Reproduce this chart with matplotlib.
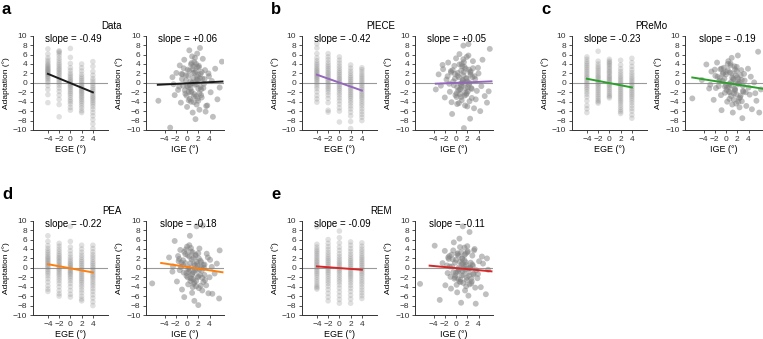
import matplotlib
matplotlib.use("Agg")
import matplotlib.pyplot as plt

plt.rcParams['font.family'] = ['Liberation Sans', 'DejaVu Sans']

# panel names, fit colours and fitted slopes/intercepts
models = ['Data', 'PIECE', 'PReMo', 'PEA', 'REM']
letters = ['a', 'b', 'c', 'd', 'e']
colors = ['#1a1a1a', '#9467bd', '#2ca02c', '#ff7f0e', '#d62728']
ege_slope = [-0.49, -0.42, -0.23, -0.22, -0.09]
ege_icpt = [-0.05, 0.05, -0.05, -0.1, -0.05]
ige_slope = [0.06, 0.05, -0.19, -0.18, -0.11]
ige_icpt = [-0.1, 0.0, 0.0, 0.2, -0.05]
ige_span = [(-5.2, 6.3), (-3.6, 6.3), (-6.0, 6.5), (-4.6, 6.3), (-4.7, 6.3)]

ege_levels = [-4, -2, 0, 2, 4]

# adaptation values at each EGE level
data_ege = [
    [7.2, 6.1, 5.3, 4.8, 4.4, 4.0, 3.7, 3.5, 3.2, 3.0, 2.8, 2.6, 2.4, 2.2, 2.0, 1.8, 1.5, 1.2, 0.9, 0.5, 0.1, -0.6, -1.4, -2.5, -4.2],
    [6.8, 6.6, 6.3, 5.8, 5.2, 4.7, 4.2, 3.8, 3.4, 3.0, 2.7, 2.3, 2.0, 1.6, 1.2, 0.8, 0.4, 0.0, -0.5, -1.1, -1.8, -2.6, -3.5, -4.6, -7.2],
    [7.3, 5.4, 4.1, 3.2, 2.6, 2.0, 1.6, 1.2, 0.8, 0.5, 0.2, -0.1, -0.4, -0.7, -1.0, -1.4, -1.8, -2.2, -2.6, -3.1, -3.6, -4.0, -4.5, -5.2, -5.8],
    [4.0, 3.2, 2.5, 1.8, 1.3, 0.9, 0.5, 0.1, -0.3, -0.6, -0.9, -1.2, -1.5, -1.8, -2.1, -2.4, -2.8, -3.1, -3.5, -3.9, -4.3, -4.8, -5.3, -5.9, -6.3],
    [4.5, 3.5, 2.4, 1.6, 0.9, 0.4, -0.1, -0.6, -1.0, -1.4, -1.8, -2.2, -2.6, -3.0, -3.3, -3.7, -4.1, -4.5, -5.0, -5.6, -6.3, -7.0, -7.8, -8.7, -9.7],
]
piece_ege = [
    [8.3, 7.4, 6.2, 5.3, 4.7, 4.2, 3.8, 3.4, 3.0, 2.7, 2.4, 2.1, 1.8, 1.5, 1.2, 0.9, 0.6, 0.2, -0.2, -0.7, -1.2, -1.9, -2.7, -3.4, -4.1],
    [6.2, 5.5, 4.9, 4.3, 3.8, 3.4, 3.0, 2.6, 2.2, 1.9, 1.5, 1.2, 0.8, 0.5, 0.1, -0.3, -0.7, -1.1, -1.5, -2.0, -2.6, -3.3, -4.2, -5.8, -6.2],
    [5.5, 4.8, 4.2, 3.6, 3.1, 2.6, 2.2, 1.8, 1.4, 1.0, 0.7, 0.3, 0.0, -0.4, -0.8, -1.2, -1.6, -2.1, -2.6, -3.2, -3.8, -4.5, -5.3, -6.0, -8.3],
    [3.8, 3.1, 2.5, 2.0, 1.5, 1.1, 0.7, 0.3, -0.1, -0.5, -0.9, -1.3, -1.7, -2.1, -2.5, -2.9, -3.3, -3.8, -4.3, -4.9, -5.5, -6.2, -7.0, -8.2, -9.7],
    [3.2, 2.8, 2.3, 1.8, 1.4, 1.0, 0.6, 0.2, -0.2, -0.6, -1.0, -1.4, -1.8, -2.2, -2.6, -3.0, -3.4, -3.9, -4.4, -4.9, -5.5, -6.1, -6.7, -7.3, -8.0],
]
premo_ege = [
    [5.5, 5.0, 4.5, 4.1, 3.7, 3.3, 2.9, 2.5, 2.1, 1.7, 1.3, 1.0, 0.6, 0.2, -0.2, -0.6, -1.0, -1.4, -1.9, -2.4, -3.0, -3.8, -4.8, -5.5, -6.3],
    [6.7, 4.6, 4.0, 3.5, 3.1, 2.7, 2.3, 1.9, 1.5, 1.2, 0.9, 0.5, 0.2, -0.2, -0.5, -0.9, -1.3, -1.7, -2.1, -2.5, -2.9, -3.3, -3.7, -4.0, -4.3],
    [5.0, 4.6, 4.3, 4.0, 3.7, 3.3, 3.0, 2.6, 2.3, 2.0, 1.6, 1.3, 1.0, 0.7, 0.4, 0.1, -0.3, -0.6, -1.0, -1.4, -1.8, -2.2, -2.6, -2.9, -3.2],
    [4.8, 3.8, 3.0, 2.4, 1.9, 1.4, 1.0, 0.6, 0.2, -0.2, -0.6, -1.0, -1.4, -1.8, -2.2, -2.6, -3.0, -3.4, -3.8, -4.2, -4.7, -5.2, -5.7, -6.1, -6.5],
    [5.2, 4.3, 3.5, 2.8, 2.2, 1.7, 1.2, 0.8, 0.4, 0.0, -0.4, -0.8, -1.2, -1.6, -2.0, -2.4, -2.8, -3.2, -3.7, -4.2, -4.8, -5.4, -6.0, -6.8, -7.5],
]
pea_ege = [
    [6.8, 5.6, 4.7, 4.1, 3.6, 3.2, 2.8, 2.4, 2.1, 1.8, 1.5, 1.2, 0.9, 0.6, 0.3, 0.0, -0.4, -0.8, -1.2, -1.7, -2.3, -3.0, -3.8, -4.5, -5.0],
    [5.2, 4.6, 4.0, 3.5, 3.0, 2.6, 2.2, 1.9, 1.5, 1.2, 0.8, 0.5, 0.2, -0.2, -0.5, -0.9, -1.3, -1.7, -2.2, -2.7, -3.3, -4.0, -4.8, -5.5, -6.0],
    [8.8, 5.6, 4.4, 3.6, 2.9, 2.3, 1.8, 1.4, 1.0, 0.7, 0.4, 0.1, -0.2, -0.5, -0.8, -1.1, -1.4, -1.8, -2.2, -2.7, -3.3, -4.0, -4.8, -5.6, -6.2],
    [4.8, 4.0, 3.3, 2.7, 2.2, 1.7, 1.3, 0.9, 0.5, 0.1, -0.3, -0.7, -1.1, -1.5, -1.9, -2.3, -2.7, -3.1, -3.6, -4.1, -4.7, -5.3, -6.0, -6.6, -7.0],
    [4.8, 4.1, 3.4, 2.8, 2.3, 1.8, 1.3, 0.9, 0.5, 0.1, -0.3, -0.7, -1.1, -1.5, -1.9, -2.3, -2.8, -3.3, -3.8, -4.4, -5.0, -5.7, -6.4, -7.2, -8.0],
]
rem_ege = [
    [8.7, 5.0, 4.4, 3.9, 3.5, 3.1, 2.7, 2.3, 1.9, 1.5, 1.2, 0.8, 0.5, 0.1, -0.3, -0.7, -1.1, -1.5, -2.0, -2.5, -3.0, -3.5, -3.9, -4.2, -4.5],
    [6.0, 5.2, 4.5, 3.9, 3.3, 2.8, 2.3, 1.9, 1.5, 1.1, 0.7, 0.3, -0.1, -0.5, -0.9, -1.3, -1.8, -2.3, -2.8, -3.3, -3.9, -4.6, -5.4, -6.2, -7.0],
    [7.8, 6.4, 5.3, 4.4, 3.7, 3.0, 2.4, 1.9, 1.4, 1.0, 0.6, 0.2, -0.2, -0.6, -1.0, -1.5, -2.0, -2.5, -3.0, -3.6, -4.3, -5.1, -5.9, -6.7, -7.5],
    [5.5, 4.8, 4.1, 3.5, 2.9, 2.4, 1.9, 1.5, 1.1, 0.7, 0.3, -0.1, -0.5, -0.9, -1.3, -1.7, -2.1, -2.6, -3.1, -3.7, -4.3, -5.0, -5.8, -6.6, -7.5],
    [5.3, 4.6, 4.0, 3.5, 3.0, 2.5, 2.1, 1.7, 1.3, 0.9, 0.5, 0.1, -0.3, -0.7, -1.1, -1.5, -2.0, -2.5, -3.0, -3.5, -4.1, -4.7, -5.3, -5.9, -6.5],
]

# IGE scatter (x = IGE, y = adaptation)
data_ige_x = [-5.1, -3.0, -2.6, -2.2, -1.9, -1.6, -1.3, -1.1, -0.9, -0.7,
              -0.5, -0.3, -0.2, 0.0, 0.1, 0.2, 0.4, 0.5, 0.6, 0.7,
              0.8, 0.9, 1.0, 1.1, 1.2, 1.3, 1.4, 1.5, 1.6, 1.7,
              1.8, 1.9, 2.0, 2.1, 2.2, 2.3, 2.4, 2.6, 2.8, 3.0,
              3.2, 3.4, 3.6, 3.9, 4.2, 4.6, 5.0, 5.4, 5.8, 6.2,
              -1.4, -0.6, 0.3, 0.9, 1.4, 2.0, 2.7, 3.3, 0.5, 1.8,
              -2.4, -0.1, 1.1, 2.5, 3.8, 0.7, 1.6, 2.2, -0.8, 4.4,
              0.2, 0.6, 1.0, 1.3, 1.7, 2.1, 2.4, -0.4, 0.8, 1.5,
              1.9, 2.6, 0.0, 1.2, 2.3, -1.0, 0.4, 1.6, 2.9, 0.9,
              1.4, 2.0, -0.2, 0.7, 1.8, 3.1, 1.1, 2.5, 0.3, 1.7]
data_ige_y = [-3.8, -9.5, 1.2, -2.6, 2.1, -1.5, 3.7, -4.2, 0.8, -0.6,
              4.9, -2.3, 1.6, -5.1, 2.8, -0.9, 6.9, -3.4, 0.3, 3.9,
              -1.8, 5.6, -6.3, 1.1, -2.9, 4.4, -0.4, -7.7, 2.5, -4.6,
              6.2, 0.6, -1.2, 3.3, -5.7, 7.4, 1.9, -3.1, 5.1, -0.2,
              2.7, -4.9, -4.8, 1.4, -2.0, -7.2, 3.0, -3.5, -1.0, 4.5,
              -0.8, 3.1, -1.9, 0.0, 2.2, -3.8, 0.9, -6.1, -0.5, 1.3,
              -0.3, -2.7, 3.5, -1.4, 2.0, -4.0, 4.0, -2.2, 1.8, 0.4,
              1.5, -1.2, 2.9, -2.4, 0.7, 3.6, -0.9, -1.6, 4.2, 0.2,
              -3.3, 2.3, -0.7, -4.1, 1.0, 1.9, 2.6, -2.8, -1.1, -0.1,
              5.3, 1.7, 0.5, -2.0, 3.4, 0.8, 2.1, -2.6, -3.7, -0.3]
piece_ige_x = [-3.6, -3.1, -2.7, -2.3, -2.0, -1.7, -1.4, -1.1, -0.9, -0.7,
               -0.5, -0.3, -0.1, 0.0, 0.2, 0.3, 0.5, 0.6, 0.8, 0.9,
               1.0, 1.1, 1.3, 1.4, 1.5, 1.6, 1.8, 1.9, 2.0, 2.2,
               2.3, 2.5, 2.6, 2.8, 3.0, 3.2, 3.4, 3.7, 4.0, 4.3,
               4.7, 5.1, 5.5, 5.8, 6.0, -2.4, -1.2, -0.2, 0.7, 1.2,
               1.7, 2.1, 2.9, 3.5, 0.4, 1.0, 1.6, 2.4, -0.6, 4.5,
               -1.5, 0.1, 1.4, 2.7, 3.9, 0.9, 1.9, -0.8, 2.2, 1.3,
               0.3, 0.7, 1.1, 1.5, 1.9, 2.3, -0.4, 0.9, 1.4, 2.0,
               2.6, 0.1, 1.2, 2.4, -0.9, 0.5, 1.7, 3.0, 0.8, 1.3,
               2.1, -0.2, 0.6, 1.8, 3.3, 1.0, 2.5, 0.2, 1.6, 2.8]
piece_ige_y = [-1.4, 1.8, -0.6, 2.9, -3.1, 0.7, 4.3, -1.9, 2.2, -6.6,
               0.3, 3.6, -2.6, 5.2, -0.9, 1.5, -4.3, 6.1, -1.3, 2.6,
               -3.7, 0.1, 7.9, -9.6, 3.4, -2.1, 1.0, 5.5, -5.0, 8.2,
               -0.4, -7.6, 2.4, -3.2, 4.6, -5.4, 0.8, -1.7, 2.0, -6.0,
               4.9, -2.8, -4.2, -1.8, 7.2, 3.8, -0.2, 1.9, -2.4, 0.5,
               3.0, -1.0, 1.2, -3.5, -1.6, 4.0, -4.8, 0.0, 2.7, -0.7,
               1.4, -3.0, 2.3, -1.1, 3.2, -0.5, -2.2, -4.1, 5.8, 1.6,
               2.1, -1.4, 3.5, -2.7, 0.9, 2.8, -0.5, -3.0, 4.4, 0.3,
               1.7, -2.2, 0.6, -3.9, 2.5, 1.2, -1.1, 3.1, -0.2, 5.0,
               -1.8, 0.9, 3.9, -2.5, 1.4, -0.8, 2.2, -4.5, 0.0, -1.3]
premo_ige_x = [-6.0, -4.3, -3.5, -3.0, -2.6, -2.2, -1.9, -1.6, -1.3, -1.0,
               -0.8, -0.6, -0.4, -0.2, 0.0, 0.2, 0.4, 0.5, 0.7, 0.9,
               1.0, 1.2, 1.3, 1.5, 1.6, 1.8, 2.0, 2.1, 2.3, 2.5,
               2.7, 2.9, 3.1, 3.3, 3.6, 3.9, 4.2, 4.6, 5.0, 5.4,
               5.7, 5.9, 6.2, -2.8, -1.1, 0.1, 0.8, 1.4, 2.2, 3.0,
               -0.5, 0.6, 1.7, 2.6, 3.5, -1.8, 0.3, 1.1, 1.9, 4.0,
               -0.9, 0.9, 2.4, 4.4, -2.0, 1.6, 2.8, 0.0, 3.2, 5.2,
               -0.6, -0.2, 0.3, 0.7, 1.1, 1.5, 1.9, 2.3, -1.2, 0.0,
               0.9, 1.7, 2.6, -0.8, 0.5, 1.3, 2.1, 3.0, -0.3, 0.8,
               1.4, 2.4, -1.5, 0.2, 1.0, 1.8, 2.8, 0.6, 1.6, 2.2]
premo_ige_y = [-3.3, 0.6, 3.9, -1.2, 2.4, -3.6, 1.5, 4.3, -0.7, 2.9,
               -5.8, 0.4, 3.2, -2.1, 1.8, -4.0, 4.6, -0.9, 2.2, -2.8,
               5.3, -6.3, 0.9, 3.5, -1.6, -4.4, 1.2, 5.8, -0.3, -3.1,
               2.7, -7.5, -1.9, 0.5, -4.9, 3.0, -2.5, -5.6, 0.1, -3.8,
               6.6, -6.3, -1.4, -0.4, 1.0, -1.5, 3.7, -2.3, 0.8, -0.6,
               2.1, -3.4, -0.1, 1.6, -2.0, -1.1, 4.0, -4.6, 2.5, -1.0,
               -2.6, 0.2, -5.2, 1.3, 2.8, -1.3, -3.9, -0.5, 1.9, -2.2,
               1.9, -0.8, 2.7, -2.0, 1.1, -1.3, 3.4, -3.3, 0.4, 2.3,
               -0.5, 1.6, -2.7, 3.0, -1.9, 0.7, -0.1, -1.7, 0.9, 4.1,
               -3.6, 0.2, 1.3, -1.0, 2.0, -2.4, 0.6, -0.2, 2.9, -4.0]
pea_ige_x = [-6.2, -3.2, -2.6, -2.2, -1.8, -1.5, -1.2, -0.9, -0.7, -0.5,
             -0.3, -0.1, 0.0, 0.2, 0.3, 0.5, 0.6, 0.8, 0.9, 1.0,
             1.2, 1.3, 1.5, 1.6, 1.7, 1.9, 2.0, 2.2, 2.3, 2.5,
             2.7, 2.8, 3.0, 3.2, 3.5, 3.8, 4.1, 4.5, 4.9, 5.3,
             5.7, 5.8, -2.5, -1.0, 0.1, 0.7, 1.4, 2.1, 2.9, -0.6,
             0.4, 1.1, 1.8, 2.6, 3.4, -1.6, 0.2, 1.0, 2.4, 4.0,
             -0.2, 0.9, 1.6, 3.1, -1.3, 0.6, 2.0, 3.7, 1.2, 4.4,
             -0.7, -0.1, 0.4, 0.8, 1.2, 1.6, 2.0, 2.4, -1.1, 0.1,
             0.9, 1.7, 2.7, -0.5, 0.6, 1.4, 2.2, 3.1, -0.3, 0.7,
             1.3, 2.5, -1.4, 0.3, 1.1, 1.9, 2.9, 0.5, 1.5, 2.1]
pea_ige_y = [-3.3, 2.2, -0.8, 5.7, -2.9, 1.4, 3.8, -4.6, 0.6, -6.2,
             2.9, -1.7, 4.5, -3.5, 0.1, 6.8, -2.2, 1.8, -5.3, 3.3,
             -0.9, -7.0, 2.6, -3.9, 8.8, 0.4, -7.9, 4.1, -1.5, 1.2,
             -4.8, 9.0, 0.0, -2.6, 3.0, -5.4, 1.7, -5.5, -1.2, 0.9,
             -6.5, 3.7, 0.3, 1.1, -2.0, 3.5, -0.4, 2.0, -3.0, -1.0,
             4.8, -2.4, 0.8, -0.6, -3.7, 2.5, -0.2, -4.1, 1.5, -2.0,
             3.9, -1.3, -2.8, 0.7, -0.5, 1.0, -1.8, 2.2, -3.4, 0.2,
             1.6, -1.1, 2.4, -2.3, 0.8, -0.6, 3.1, -3.8, 0.2, 2.7,
             -1.4, 1.3, -2.1, 3.4, -2.8, 0.5, -0.3, -1.5, 1.0, 4.2,
             -3.1, 0.1, 1.9, -0.9, 2.1, -2.0, 0.6, -0.4, 2.8, -4.3]
rem_ige_x = [-6.4, -3.8, -2.9, -2.4, -2.0, -1.9, -1.5, -1.2, -0.9, -0.7,
             -0.4, -0.2, 0.0, 0.2, 0.3, 0.5, 0.6, 0.8, 0.9, 1.1,
             1.2, 1.3, 1.5, 1.6, 1.8, 1.9, 2.1, 2.2, 2.4, 2.5,
             2.7, 2.9, 3.1, 3.3, 3.5, 3.8, 4.1, 4.4, 4.8, 5.3,
             5.5, 5.7, -1.3, -0.5, 0.4, 1.0, 1.7, 2.3, 3.0, 3.9,
             -0.8, 0.1, 0.7, 1.4, 2.0, 2.8, -1.6, -0.1, 1.2, 2.6,
             3.6, 0.9, 1.8, -0.3, 4.6, 0.5, 2.2, 1.5, 3.2, -1.0,
             -0.6, 0.0, 0.4, 0.8, 1.2, 1.6, 2.0, 2.4, -1.1, 0.2,
             1.0, 1.7, 2.7, -0.5, 0.6, 1.4, 2.2, 3.1, -0.2, 0.7,
             1.3, 2.5, -1.4, 0.3, 1.1, 1.9, 2.9, 0.5, 1.5, 3.4]
rem_ige_y = [-3.4, 4.7, -6.8, 1.0, 3.6, -3.7, -1.1, 2.5, -4.4, 0.3,
             5.4, -2.0, 1.7, -5.2, 3.1, -0.6, 6.2, -3.0, -7.4, 2.0,
             8.8, -1.5, 4.3, -4.8, 0.6, -2.6, 3.5, -5.9, 7.6, 0.0,
             -3.3, 2.6, -1.2, 4.0, -7.6, -2.2, 1.4, -4.1, 0.9, -5.6,
             2.0, -0.4, 1.9, -0.9, -2.4, 0.8, 3.0, -1.7, 0.4, -1.3,
             2.8, -3.6, 1.3, -0.2, 4.6, -2.9, 0.5, -1.6, -0.7, 1.1,
             -0.5, 3.3, -3.9, -2.3, 2.4, 0.1, -1.0, 1.6, 3.7, -1.9,
             1.8, -1.0, 2.6, -2.5, 0.9, -0.4, 3.3, -3.5, 0.3, 2.9,
             -1.6, 1.2, -2.3, 3.7, -2.9, 0.4, -0.1, -1.4, 1.1, 4.4,
             -3.2, 0.0, 2.2, -0.8, 2.0, -2.1, 0.7, -0.3, 2.7, -4.2]

ege_all = [data_ege, piece_ege, premo_ege, pea_ege, rem_ege]
ige_all = [(data_ige_x, data_ige_y), (piece_ige_x, piece_ige_y),
           (premo_ige_x, premo_ige_y), (pea_ige_x, pea_ige_y),
           (rem_ige_x, rem_ige_y)]

# layout in pixels
W, H = 763, 339
fig = plt.figure(figsize=(W / 100, H / 100), dpi=100)
col_off = [0, 269, 539]
row_top = [35.7, 220.7]
ax_h = 94.3
slots = [(0, 0), (0, 1), (0, 2), (1, 0), (1, 1)]


def add_ax(left, top, w, h):
    return fig.add_axes([left / W, 1 - (top + h) / H, w / W, h / H])


def style(ax, xlabel):
    for s in ['top', 'right']:
        ax.spines[s].set_visible(False)
    for s in ['left', 'bottom']:
        ax.spines[s].set_linewidth(0.7)
        ax.spines[s].set_color('#333333')
    ax.set_ylim(-10, 10)
    ax.set_yticks(range(-10, 11, 2))
    ax.set_xticks([-4, -2, 0, 2, 4])
    ax.tick_params(labelsize=6, length=2.5, width=0.6, pad=1.5, colors='#333333')
    ax.set_ylabel('Adaptation (°)', fontsize=6, labelpad=2)
    ax.set_xlabel(xlabel, fontsize=6.5, labelpad=2)
    ax.axhline(0, color='#999999', lw=0.8, zorder=1)


for i, (r, c) in enumerate(slots):
    o = col_off[c]
    top = row_top[r]

    # EGE panel
    ax = add_ax(32.7 + o, top, 74.8, ax_h)
    style(ax, 'EGE (°)')
    for lvl, ys in zip(ege_levels, ege_all[i]):
        ax.scatter([lvl] * len(ys), ys, s=16, color='#7f7f7f', alpha=0.24,
                   edgecolors='none', zorder=2)
    xs = [ege_levels[0], ege_levels[-1]]
    ax.plot(xs, [ege_icpt[i] + ege_slope[i] * x for x in xs],
            color=colors[i], lw=1.4, zorder=3)
    ax.set_xlim(-6.7, 6.6)
    ax.text(0.54, 0.965, f'slope = {ege_slope[i]:+.2f}',
            transform=ax.transAxes, ha='center', va='center', fontsize=7)

    # IGE panel
    ax = add_ax(146 + o, top, 77.6, ax_h)
    style(ax, 'IGE (°)')
    gx, gy = ige_all[i]
    ax.scatter(gx, gy, s=18, color='#808080', alpha=0.5,
               edgecolors='none', zorder=2)
    xs = list(ige_span[i])
    ax.plot(xs, [ige_icpt[i] + ige_slope[i] * x for x in xs],
            color=colors[i], lw=1.4, zorder=3)
    ax.set_xlim(-7.3, 6.5)
    ax.text(0.54, 0.965, f'slope = {ige_slope[i]:+.2f}',
            transform=ax.transAxes, ha='center', va='center', fontsize=7)

    # panel letter and model title
    fig.text((o + 2) / W, 1 - (top - 21.7) / H, letters[i], fontsize=12,
             fontweight='bold', ha='left', va='baseline')
    fig.text((o + 112) / W, 1 - (top - 7) / H, models[i], fontsize=7,
             ha='center', va='baseline')

fig.savefig('out.png', dpi=100)
